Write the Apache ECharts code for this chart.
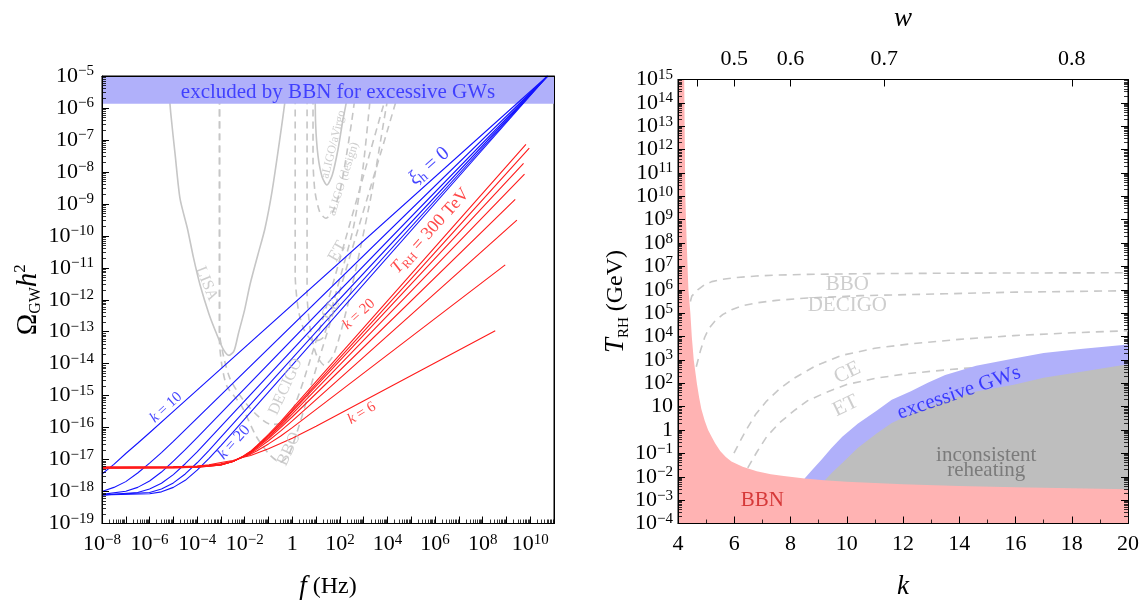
<!DOCTYPE html>
<html>
<head>
<meta charset="utf-8">
<script src="https://cdn.jsdelivr.net/npm/echarts@6.0.0/dist/echarts.min.js"></script>
<style>
  html, body { margin: 0; padding: 0; background: #fff; }
  #chart { width: 1142px; height: 605px; }
</style>
</head>
<body>
<div id="chart"></div>
<script>
// ---------------------------------------------------------------------------
// Left panel: GW spectra, points stored as [log10(f / Hz), log10(Omega_GW h^2)]
// ---------------------------------------------------------------------------

// xi_h = 0 family (blue), one curve per k
const blueK10 = [[-8, -17.45], [-7.5, -17.15], [-7, -16.81], [-6.5, -16.49], [-6, -16.16], [-5, -15.49], [10.73, -5]];
const blueK12 = [[-8, -18.0], [-7.5, -17.87], [-7, -17.69], [-6.5, -17.42], [-6, -17.11], [-5.5, -16.78], [-5, -16.43], [10.73, -5]];
const blueK14 = [[-8, -18.09], [-7, -17.99], [-6.5, -17.87], [-6, -17.67], [-5.5, -17.39], [-5, -17.05], [-4.5, -16.69], [-4, -16.31], [10.73, -5]];
const blueK16 = [[-8, -18.11], [-6.5, -18.03], [-6, -17.92], [-5.5, -17.74], [-5, -17.47], [-4.5, -17.13], [-4, -16.76], [-3.5, -16.36], [10.73, -5]];
const blueK18 = [[-8, -18.11], [-6, -18.03], [-5.5, -17.92], [-5, -17.73], [-4.5, -17.45], [-4, -17.10], [-3.5, -16.71], [-3, -16.30], [10.73, -5]];
const blueK20 = [[-8, -18.11], [-6, -18.07], [-5.5, -18.01], [-5, -17.87], [-4.5, -17.65], [-4, -17.33], [-3.5, -16.96], [-3, -16.56], [-2.5, -16.15], [10.73, -5]];

// T_RH = 300 TeV family (red), one curve per k
const redK20 = [[-8, -17.27], [-5, -17.26], [-4, -17.24], [-3.5, -17.21], [-3, -17.17], [-2.5, -17.06], [-2.06, -16.89], [-1.75, -16.74], [-1.5, -16.57], [-1, -16.21], [-0.5, -15.82], [0, -15.40], [9.82, -7.14]];
const redK18 = [[-8, -17.265], [-5, -17.255], [-4, -17.235], [-3.5, -17.205], [-3, -17.17], [-2.5, -17.06], [-2.06, -16.90], [-1.75, -16.75], [-1.5, -16.59], [-1, -16.25], [-0.5, -15.87], [0, -15.46], [9.96, -7.26]];
const redK16 = [[-8, -17.26], [-5, -17.25], [-4, -17.23], [-3.5, -17.2], [-3, -17.17], [-2.5, -17.06], [-2.06, -16.90], [-1.75, -16.75], [-1.5, -16.59], [-1, -16.25], [-0.5, -15.89], [0, -15.50], [9.72, -7.73]];
const redK14 = [[-8, -17.255], [-5, -17.245], [-4, -17.225], [-3.5, -17.195], [-3, -17.16], [-2.5, -17.06], [-2.06, -16.90], [-1.75, -16.77], [-1.5, -16.62], [-1, -16.30], [-0.5, -15.95], [0, -15.57], [9.76, -8.07]];
const redK12 = [[-8, -17.25], [-5, -17.24], [-4, -17.22], [-3.5, -17.19], [-3, -17.15], [-2.5, -17.06], [-2.06, -16.91], [-1.75, -16.78], [-1.5, -16.64], [-1, -16.34], [-0.5, -16.01], [0, -15.66], [9.37, -8.86]];
const redK10 = [[-8, -17.245], [-5, -17.235], [-4, -17.215], [-3.5, -17.185], [-3, -17.15], [-2.5, -17.06], [-2.06, -16.91], [-1.75, -16.80], [-1.5, -16.68], [-1, -16.41], [-0.5, -16.11], [0, -15.79], [9.44, -9.51]];
const redK8  = [[-8, -17.24], [-5, -17.23], [-4, -17.21], [-3.5, -17.18], [-3, -17.13], [-2.5, -17.05], [-2.06, -16.92], [-1.75, -16.83], [-1.5, -16.73], [-1, -16.51], [-0.5, -16.27], [0, -16.0], [8.95, -10.91]];
const redK6  = [[-8, -17.235], [-5, -17.225], [-4, -17.2], [-3.5, -17.16], [-3, -17.09], [-2.5, -17.03], [-2.06, -16.93], [-1.75, -16.87], [-1.5, -16.80], [-1, -16.66], [-0.5, -16.50], [0, -16.33], [1, -15.96], [8.53, -12.97]];

// detector sensitivity curves
const lisaCurve = [[-5.2, -5.3], [-5.11, -6.16], [-4.92, -7.5], [-4.72, -8.84], [-4.41, -9.77], [-4.15, -10.7], [-3.88, -11.53],
  [-3.5, -12.45], [-3.18, -13.07], [-2.9, -13.55], [-2.66, -13.74], [-2.45, -13.6], [-2.27, -13.07], [-2.0, -12.3],
  [-1.78, -11.53], [-1.45, -10.6], [-1.15, -9.77], [-0.85, -8.6], [-0.55, -7.1], [-0.30, -5.74], [-0.25, -5.3]];
const ligoO3Curve = [[0.96, -5.3], [0.98, -6.5], [1.08, -7.5], [1.25, -8.15], [1.45, -8.41], [1.68, -8.1], [1.92, -7.3],
  [2.12, -6.4], [2.29, -5.74], [2.35, -5.3]];
const ligoDesignCurve = [[0.87, -5.3], [0.87, -7.6], [0.95, -8.6], [1.15, -9.25], [1.4, -9.45], [1.7, -9.25], [2.0, -8.6],
  [2.25, -7.6], [2.5, -6.4], [2.7, -5.3]];
const bboCurve = [[-3.06, -5.3], [-3.06, -13.3], [-2.95, -14.1], [-2.74, -14.72], [-2.15, -15.3], [-1.52, -16.27],
  [-0.95, -16.85], [-0.51, -17.08], [-0.15, -16.85], [0.3, -15.9], [0.9, -14.4], [1.6, -12.7], [2.4, -10.7],
  [3.2, -8.7], [4.0, -6.7], [4.55, -5.3]];
const decigoCurve = [[-3.06, -5.3], [-3.06, -13.0], [-2.85, -13.9], [-2.6, -14.5], [-2.1, -15.1], [-1.5, -15.6],
  [-0.9, -15.9], [-0.4, -15.85], [0.1, -15.3], [0.7, -14.0], [1.4, -12.3], [2.2, -10.2], [3.0, -8.1], [3.8, -6.0], [4.1, -5.3]];
const etCurve = [[0.12, -5.3], [0.12, -11.2], [0.25, -12.3], [0.5, -12.95], [0.9, -13.3], [1.3, -13.17], [1.9, -11.6],
  [2.56, -9.77], [2.95, -8.0], [3.27, -5.74], [3.32, -5.3]];
const ceCurve = [[0.62, -5.3], [0.62, -11.8], [0.75, -12.9], [1.0, -13.7], [1.35, -14.05], [1.75, -13.7], [2.25, -12.4],
  [2.8, -10.6], [3.35, -8.6], [3.85, -6.4], [4.1, -5.3]];

// BBN bound on GW energy density
const bbnOmegaBound = -5.87;

// axis decades
const leftXDecades = [-8, 11];
const leftYDecades = [-19, -5];

// ---------------------------------------------------------------------------
// Right panel: [k, log10(T_RH / GeV)]
// ---------------------------------------------------------------------------
const bbnEdge = [[4, 15], [4.22, 15], [4.26, 10], [4.31, 8], [4.37, 6], [4.44, 5], [4.49, 4], [4.56, 3], [4.67, 2],
  [4.75, 1.4], [4.83, 0.9], [4.95, 0.4], [5.07, 0], [5.2, -0.3], [5.32, -0.57], [5.5, -0.9], [5.7, -1.15], [5.9, -1.35],
  [6.3, -1.57], [6.8, -1.76], [7.3, -1.89], [7.76, -1.97], [8.5, -2.07], [9.2, -2.15], [10, -2.21], [11, -2.27],
  [12, -2.32], [14, -2.39], [16, -2.45], [18, -2.49], [20, -2.53]];
const gwEdge = [[8.5, -2.07], [8.8, -1.67], [9.1, -1.27], [9.45, -0.78], [9.84, -0.29], [10.4, 0.28], [11.06, 0.83],
  [11.6, 1.3], [12.28, 1.66], [12.9, 2.03], [13.5, 2.36], [14.6, 2.75], [15.94, 3.06], [17, 3.3], [18.4, 3.48], [20, 3.66]];
const reheatEdge = [[9.23, -2.14], [9.5, -1.8], [9.84, -1.41], [10.4, -0.76], [11.06, -0.15], [11.6, 0.3], [12.28, 0.69],
  [12.9, 0.99], [13.5, 1.24], [14.6, 1.65], [15.94, 1.94], [17, 2.24], [18.4, 2.5], [20, 2.81]];
const bboReach = [[4.44, 5.5], [4.49, 5.73], [4.7, 6.0], [4.95, 6.22], [5.2, 6.35], [5.56, 6.45], [6.1, 6.53], [6.78, 6.59],
  [7.5, 6.63], [8.61, 6.66], [10.5, 6.69], [13.5, 6.71], [16, 6.72], [20, 6.73]];
const decigoReach = [[4.65, 2.71], [4.8, 3.4], [4.95, 3.97], [5.1, 4.35], [5.32, 4.67], [5.6, 4.95], [5.93, 5.16],
  [6.3, 5.32], [6.78, 5.44], [7.5, 5.55], [8.61, 5.65], [10.5, 5.75], [13.5, 5.83], [16, 5.9], [20, 5.96]];
const ceReach = [[5.99, -0.99], [6.2, -0.5], [6.42, -0.01], [6.75, 0.65], [7.15, 1.24], [7.6, 1.75], [8.13, 2.22],
  [8.9, 2.75], [9.84, 3.2], [11, 3.5], [12.28, 3.69], [14, 3.88], [15.94, 4.04], [18, 4.16], [20, 4.25]];
const etReach = [[6.48, -1.62], [6.8, -0.95], [7.15, -0.29], [7.6, 0.3], [8.13, 0.83], [8.6, 1.25], [9.23, 1.59],
  [10, 1.95], [11.06, 2.22], [12.2, 2.42], [13.5, 2.57], [14.3, 2.65], [15.1, 2.71], [17, 2.85], [20, 3.0]];

const kRange = [4, 20];
const tDecades = [-4, 15];
const wTicks = [0.4, 0.5, 0.6, 0.7, 0.8];
const wLabelled = [0.5, 0.6, 0.7, 0.8];

// ---------------------------------------------------------------------------
const SERIF = 'Liberation Serif';
const BLUE = '#1414ff';
const RED = '#ff1a1a';
const GREY_TXT = '#c2c2c2';
const GREY_LINE = '#c6c6c6';

const kOfW = w => 2 * (1 + w) / (1 - w);
const wOfK = k => (k - 2) / (k + 2);

function pow10Label(n) {
  if (n === 0) return '{b|1}';
  if (n === 1) return '{b|10}';
  return '{b|10}{s|' + (n < 0 ? '\u2212' + (-n) : String(n)) + '}';
}
const tickRich = {
  b: { fontFamily: SERIF, fontSize: 22, lineHeight: 24, color: '#000' },
  s: { fontFamily: SERIF, fontSize: 15, lineHeight: 10, verticalAlign: 'top', color: '#000' }
};
function minorDecadeTicks(lo, hi) {
  const t = [];
  for (let n = lo; n < hi; n++) for (let m = 2; m <= 9; m++) t.push(n + Math.log10(m));
  return t;
}

function axis(extra) {
  return Object.assign({
    type: 'value', z: 10,
    axisLine: { show: false, onZero: false },
    splitLine: { show: false },
    axisTick: { show: false },
    axisLabel: { show: false }
  }, extra);
}
const frameLine = { show: true, onZero: false, lineStyle: { color: '#000', width: 1 } };
const majorTick = { show: true, inside: true, length: 7, lineStyle: { color: '#000', width: 1 } };
function minorTickAt(values) {
  return { show: true, inside: true, length: 4, customValues: values, lineStyle: { color: '#000', width: 0.8 } };
}

const nameStyle = (rich) => ({
  fontFamily: SERIF, fontSize: 24, color: '#000',
  rich: Object.assign({
    i: { fontFamily: SERIF, fontSize: 27, fontStyle: 'italic', color: '#000', lineHeight: 30 },
    r: { fontFamily: SERIF, fontSize: 24, color: '#000', lineHeight: 30 }
  }, rich || {})
});

// ---- axes ----
const xAxes = [
  // 0: left panel, frequency
  axis({
    gridIndex: 0, position: 'bottom', min: leftXDecades[0], max: leftXDecades[1], interval: 1,
    axisLine: frameLine, axisTick: majorTick,
    axisLabel: { show: true, margin: 9, formatter: v => { const n = Math.round(v); return n % 2 === 0 ? pow10Label(n) : ''; }, rich: tickRich },
    name: '{i|f} {r|(Hz)}', nameLocation: 'middle', nameGap: 48, nameTextStyle: nameStyle()
  }),
  // 1: left panel, minor frequency ticks
  axis({ gridIndex: 0, position: 'bottom', min: leftXDecades[0], max: leftXDecades[1],
    axisTick: minorTickAt(minorDecadeTicks(leftXDecades[0], leftXDecades[1])) }),
  // 2: left panel, top frame
  axis({ gridIndex: 0, position: 'top', min: leftXDecades[0], max: leftXDecades[1], axisLine: frameLine }),
  // 3: right panel, k
  axis({
    gridIndex: 1, position: 'bottom', min: kRange[0], max: kRange[1], interval: 2,
    axisLine: frameLine, axisTick: majorTick,
    minorTick: { show: true, splitNumber: 2, length: 4, lineStyle: { color: '#000', width: 0.8 } },
    axisLabel: { show: true, margin: 10, fontFamily: SERIF, fontSize: 22, color: '#000' },
    name: '{i|k}', nameLocation: 'middle', nameGap: 48, nameTextStyle: nameStyle()
  }),
  // 4: right panel, equation-of-state parameter w on top
  axis({
    gridIndex: 1, position: 'top', min: kRange[0], max: kRange[1],
    axisLine: frameLine,
    axisTick: Object.assign({}, majorTick, { customValues: wTicks.map(kOfW) }),
    axisLabel: { show: true, margin: 9, customValues: wLabelled.map(kOfW), fontFamily: SERIF, fontSize: 22, color: '#000',
      formatter: v => wOfK(v).toFixed(1) },
    name: '{i|w}', nameLocation: 'middle', nameGap: 46, nameTextStyle: nameStyle()
  })
];

const yAxes = [
  // 0: left panel, Omega_GW h^2
  axis({
    gridIndex: 0, position: 'left', min: leftYDecades[0], max: leftYDecades[1], interval: 1,
    axisLine: frameLine, axisTick: majorTick,
    axisLabel: { show: true, margin: 8, formatter: v => pow10Label(Math.round(v)), rich: tickRich },
    name: '{o|\u03A9}{sub|GW}{i|h}{sup|2}', nameLocation: 'middle', nameGap: 58,
    nameTextStyle: nameStyle({
      o: { fontFamily: SERIF, fontSize: 29, color: '#000', lineHeight: 32 },
      sub: { fontFamily: SERIF, fontSize: 16, color: '#000', lineHeight: 12, verticalAlign: 'bottom' },
      sup: { fontFamily: SERIF, fontSize: 17, color: '#000', lineHeight: 12, verticalAlign: 'top' },
      i: { fontFamily: SERIF, fontSize: 29, fontStyle: 'italic', color: '#000', lineHeight: 32 }
    })
  }),
  // 1: left panel, minor ticks
  axis({ gridIndex: 0, position: 'left', min: leftYDecades[0], max: leftYDecades[1],
    axisTick: minorTickAt(minorDecadeTicks(leftYDecades[0], leftYDecades[1])) }),
  // 2: left panel, right frame
  axis({ gridIndex: 0, position: 'right', min: leftYDecades[0], max: leftYDecades[1], axisLine: frameLine }),
  // 3: right panel, T_RH
  axis({
    gridIndex: 1, position: 'left', min: tDecades[0], max: tDecades[1], interval: 1,
    axisLine: frameLine, axisTick: majorTick,
    axisLabel: { show: true, margin: 5, formatter: v => pow10Label(Math.round(v)), rich: tickRich },
    name: '{i|T}{sub|RH} {r|(GeV)}', nameLocation: 'middle', nameGap: 46,
    nameTextStyle: nameStyle({
      sub: { fontFamily: SERIF, fontSize: 15, color: '#000', lineHeight: 12, verticalAlign: 'bottom' }
    })
  }),
  // 4: right panel, minor ticks (left)
  axis({ gridIndex: 1, position: 'left', min: tDecades[0], max: tDecades[1],
    axisTick: minorTickAt(minorDecadeTicks(tDecades[0], tDecades[1])) }),
  // 5: right panel, right frame with mirrored ticks
  axis({ gridIndex: 1, position: 'right', min: tDecades[0], max: tDecades[1], interval: 1,
    axisLine: frameLine, axisTick: majorTick }),
  // 6: right panel, minor ticks (right)
  axis({ gridIndex: 1, position: 'right', min: tDecades[0], max: tDecades[1],
    axisTick: minorTickAt(minorDecadeTicks(tDecades[0], tDecades[1])) })
];

// ---- series ----
const series = [];
const L = { xAxisIndex: 0, yAxisIndex: 0 };
const R = { xAxisIndex: 3, yAxisIndex: 3 };

function curve(panel, data, style, z, smooth) {
  return Object.assign({
    type: 'line', data: data, symbol: 'none', silent: true, z: z,
    smooth: smooth || false,
    lineStyle: style
  }, panel);
}

// detector sensitivities (drawn under the BBN band)
const solidGrey = { color: GREY_LINE, width: 1.6 };
const dashGrey = { color: GREY_LINE, width: 1.6, type: [7, 5] };
series.push(curve(L, lisaCurve, solidGrey, 1, 0.25));
series.push(curve(L, ligoO3Curve, solidGrey, 1, 0.25));
series.push(curve(L, ligoDesignCurve, dashGrey, 1, 0.25));
series.push(curve(L, bboCurve, dashGrey, 1, 0.25));
series.push(curve(L, decigoCurve, dashGrey, 1, 0.25));
series.push(curve(L, etCurve, dashGrey, 1, 0.25));
series.push(curve(L, ceCurve, dashGrey, 1, 0.25));

// BBN exclusion band across the top
series.push(Object.assign({
  type: 'line', symbol: 'none', silent: true, z: 3,
  data: [[leftXDecades[0], bbnOmegaBound], [leftXDecades[1], bbnOmegaBound]],
  lineStyle: { width: 0 },
  areaStyle: { color: '#b0b0fa', opacity: 1, origin: 'end' }
}, L));

// spectra
[blueK10, blueK12, blueK14, blueK16, blueK18, blueK20].forEach(d => {
  series.push(curve(L, d, { color: BLUE, width: 1.1 }, 5));
});
[redK6, redK8, redK10, redK12, redK14, redK16, redK18, redK20].forEach(d => {
  series.push(curve(L, d, { color: RED, width: 1.1 }, 6));
});

// right panel: detector reach (dashed, under the shaded regions)
[bboReach, decigoReach, ceReach, etReach].forEach(d => {
  series.push(curve(R, d, { color: '#c8c8c8', width: 1.6, type: [8, 6] }, 1));
});
function region(data, color, z) {
  return Object.assign({
    type: 'line', data: data, symbol: 'none', silent: true, z: z,
    lineStyle: { width: 0 },
    areaStyle: { color: color, opacity: 1, origin: 'start' }
  }, R);
}
series.push(region(gwEdge, '#b0b0fa', 2));
series.push(region(reheatEdge, '#bebebe', 3));
series.push(region(bbnEdge, '#ffb3b3', 4));

// ---- text annotations placed in data coordinates ----
function notes(panel, items) {
  return Object.assign({
    type: 'scatter', silent: true, z: 20, symbolSize: 1,
    itemStyle: { color: 'rgba(0,0,0,0)' },
    data: items.map(it => ({
      value: it.at,
      label: {
        show: true, position: 'inside', formatter: it.text, rotate: it.rot || 0,
        color: it.color, fontFamily: SERIF, fontSize: it.size, lineHeight: it.lh || Math.round(it.size * 1.15),
        align: 'center', verticalAlign: 'middle',
        rich: {
          i: { fontFamily: SERIF, fontStyle: 'italic', fontSize: it.size, color: it.color, lineHeight: Math.round(it.size * 1.2) },
          n: { fontFamily: SERIF, fontSize: it.size, color: it.color, lineHeight: Math.round(it.size * 1.2) },
          sub: { fontFamily: SERIF, fontSize: Math.round(it.size * 0.68), color: it.color,
            lineHeight: Math.round(it.size * 0.5), verticalAlign: 'bottom' }
        }
      }
    }))
  }, panel);
}

series.push(notes(L, [
  { at: [1.92, -5.53], text: 'excluded by BBN for excessive GWs', color: '#2424ff', size: 21 },
  { at: [5.75, -7.82], text: '{i|\u03BE}{sub|h}{n| = 0}', color: BLUE, size: 20, rot: 41 },
  { at: [-5.31, -15.37], text: '{i|k}{n| = 10}', color: BLUE, size: 15, rot: 42 },
  { at: [-2.45, -16.46], text: '{i|k}{n| = 20}', color: BLUE, size: 16, rot: 48 },
  { at: [2.8, -12.45], text: '{i|k}{n| = 20}', color: RED, size: 15, rot: 42 },
  { at: [2.92, -15.55], text: '{i|k}{n| = 6}', color: RED, size: 15, rot: 31 },
  { at: [5.8, -9.85], text: '{i|T}{sub|RH}{n| = 300 TeV}', color: RED, size: 18, rot: 48 },
  { at: [-3.60, -11.5], text: 'LISA', color: GREY_TXT, size: 16, rot: -68 },
  { at: [-0.28, -14.72], text: 'DECIGO', color: GREY_TXT, size: 16, rot: 65 },
  { at: [-0.14, -16.67], text: 'BBO', color: GREY_TXT, size: 17, rot: 65 },
  { at: [1.62, -12.30], text: 'CE', color: GREY_TXT, size: 16, rot: 58 },
  { at: [1.90, -10.49], text: 'ET', color: GREY_TXT, size: 17, rot: 60 },
  { at: [1.73, -7.14], text: 'aLIGO/aVirgo', color: GREY_TXT, size: 12, rot: 76 },
  { at: [2.15, -8.22], text: 'aLIGO (design)', color: GREY_TXT, size: 12, rot: 72 }
]));

series.push(notes(R, [
  { at: [10.02, 6.22], text: 'BBO', color: GREY_TXT, size: 21 },
  { at: [10.02, 5.31], text: 'DECIGO', color: GREY_TXT, size: 21 },
  { at: [10.02, 2.45], text: 'CE', color: GREY_TXT, size: 21, rot: 26 },
  { at: [9.96, 1.03], text: 'ET', color: GREY_TXT, size: 21, rot: 26 },
  { at: [13.99, 1.59], text: 'excessive GWs', color: '#1a1aff', size: 21, rot: 19 },
  { at: [14.96, -1.41], text: 'inconsistent\nreheating', color: '#6a6a6a', size: 21, lh: 15 },
  { at: [7.0, -3.02], text: 'BBN', color: '#cc1a1a', size: 21 }
]));

const chart = echarts.init(document.getElementById('chart'), null, { renderer: 'canvas' });
chart.setOption({
  animation: false,
  backgroundColor: '#fff',
  grid: [
    { left: 102, top: 76, width: 452, height: 452, show: true, borderColor: '#000', borderWidth: 1, containLabel: false },
    { left: 678, top: 76, width: 452, height: 452, show: true, borderColor: '#000', borderWidth: 1, containLabel: false }
  ],
  xAxis: xAxes,
  yAxis: yAxes,
  series: series
});
</script>
</body>
</html>
